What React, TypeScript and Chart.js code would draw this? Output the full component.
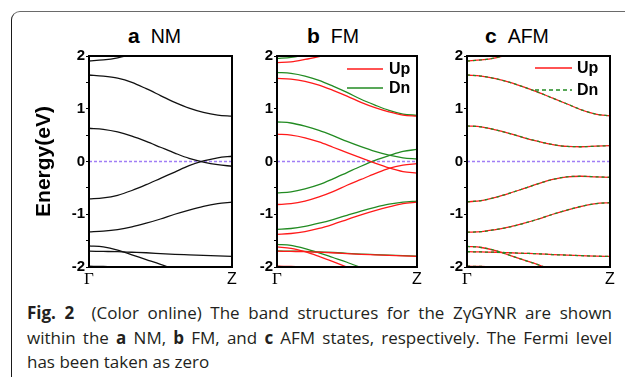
import React, { useEffect, useRef } from 'react';
import { Chart, registerables } from 'chart.js';

Chart.register(...registerables);

// ---------- data ----------
const kPoints = [0, 0.1, 0.2, 0.3, 0.4, 0.5, 0.6, 0.7, 0.8, 0.9, 1.0];
const kTickValues = [0, 1];
const kTickLabels = ['Γ', 'Z'];
const energyMin = -2;
const energyMax = 2;
const energyTickStep = 0.5;
const legendLabels = ['Up', 'Dn'];
const panelTitles = [
  ['a', 'NM'],
  ['b', 'FM'],
  ['c', 'AFM'],
];
const yAxisTitle = 'Energy(eV)';

const N = null;

// (a) NM bands
const nmBands: (number | null)[][] = [
  [1.905, 1.925, 1.965, 2.03, N, N, N, N, N, N, N],
  [1.64, 1.62, 1.58, 1.5, 1.38, 1.25, 1.12, 1.01, 0.93, 0.88, 0.86],
  [0.63, 0.61, 0.56, 0.48, 0.38, 0.27, 0.16, 0.06, -0.01, -0.06, -0.09],
  [-0.71, -0.69, -0.64, -0.55, -0.44, -0.32, -0.2, -0.08, 0.01, 0.07, 0.1],
  [-1.335, -1.32, -1.29, -1.24, -1.17, -1.09, -1.0, -0.92, -0.85, -0.8, -0.77],
  [-1.6, -1.62, -1.68, -1.77, -1.86, -1.95, -2.05, N, N, N, N],
  [-1.7, -1.705, -1.71, -1.72, -1.73, -1.745, -1.76, -1.77, -1.78, -1.79, -1.8],
  [-1.985, -1.99, -2.0, -2.02, N, N, N, N, N, N, N],
];

// (b) FM bands
const fmUpBands: (number | null)[][] = [
  [1.875, 1.89, 1.935, 1.99, 2.05, N, N, N, N, N, N],
  [1.575, 1.56, 1.52, 1.45, 1.35, 1.24, 1.12, 1.02, 0.94, 0.88, 0.86],
  [0.52, 0.5, 0.45, 0.37, 0.27, 0.17, 0.07, -0.03, -0.12, -0.19, -0.22],
  [-0.815, -0.8, -0.75, -0.67, -0.57, -0.45, -0.34, -0.23, -0.13, -0.07, -0.04],
  [-1.38, -1.365, -1.33, -1.27, -1.19, -1.1, -1.01, -0.93, -0.86, -0.8, -0.77],
  [-1.62, -1.645, -1.71, -1.8, -1.9, -2.0, -2.1, N, N, N, N],
  [-1.7, -1.705, -1.71, -1.72, -1.73, -1.745, -1.76, -1.77, -1.78, -1.79, -1.8],
  [-1.985, -1.99, -1.995, -2.005, -2.02, N, N, N, N, N, N],
];
const fmDnBands: (number | null)[][] = [
  [1.955, 1.975, 2.02, N, N, N, N, N, N, N, N],
  [1.69, 1.67, 1.62, 1.54, 1.43, 1.31, 1.18, 1.07, 0.97, 0.9, 0.875],
  [0.75, 0.73, 0.67, 0.59, 0.49, 0.38, 0.28, 0.19, 0.12, 0.07, 0.05],
  [-0.595, -0.575, -0.52, -0.44, -0.33, -0.21, -0.09, 0.02, 0.11, 0.19, 0.23],
  [-1.285, -1.27, -1.23, -1.17, -1.1, -1.02, -0.94, -0.87, -0.81, -0.77, -0.75],
  [-1.57, -1.59, -1.65, -1.73, -1.82, -1.91, -2.01, N, N, N, N],
  [-1.695, -1.7, -1.705, -1.715, -1.725, -1.74, -1.755, -1.765, -1.775, -1.785, -1.795],
  [-1.99, -1.995, -2.005, N, N, N, N, N, N, N, N],
];

// (c) AFM bands (spin up and down are degenerate)
const afmUpBands: (number | null)[][] = [
  [1.905, 1.925, 1.965, 2.03, N, N, N, N, N, N, N],
  [1.64, 1.62, 1.57, 1.5, 1.41, 1.31, 1.2, 1.09, 0.98, 0.9, 0.865],
  [0.675, 0.655, 0.6, 0.53, 0.45, 0.38, 0.32, 0.285, 0.28, 0.29, 0.3],
  [-0.765, -0.74, -0.68, -0.6, -0.51, -0.42, -0.34, -0.29, -0.28, -0.29, -0.3],
  [-1.34, -1.33, -1.29, -1.24, -1.17, -1.09, -1.0, -0.92, -0.85, -0.8, -0.78],
  [-1.61, -1.63, -1.69, -1.78, -1.87, -1.96, -2.06, N, N, N, N],
  [-1.71, -1.715, -1.72, -1.73, -1.74, -1.75, -1.765, -1.775, -1.785, -1.795, -1.8],
  [-1.985, -1.99, -2.0, -2.02, N, N, N, N, N, N, N],
];
const afmDnBands: (number | null)[][] = afmUpBands;

const fermiLevel = 0;

// ---------- styles ----------
const RED = '#ff1a1a';
const GREEN = '#228b22';
const BLACK = '#111111';
const FERMI = '#a07ef5';
const SANS = '"Liberation Sans", Arial, sans-serif';
const SERIF = '"Liberation Serif", "Times New Roman", serif';

type BandSet = { bands: (number | null)[][]; color: string; dash: number[]; order: number };
type LegendItem = { label: string; color: string; dash: number[] };

function toPoints(band: (number | null)[]) {
  return band.map((e, i) => ({ x: kPoints[i], y: e }));
}

interface PanelProps {
  left: number;
  width: number;
  yWidth: number;
  padRight: number;
  sets: BandSet[];
  yTitle?: string;
  legend?: { items: LegendItem[]; lineStart: number; lineEnd: number; text: number; ys: number[] };
}

function BandPanel({ left, width, yWidth, padRight, sets, yTitle, legend }: PanelProps) {
  const ref = useRef<HTMLCanvasElement | null>(null);
  useEffect(() => {
    if (!ref.current) return;
    const datasets: any[] = [];
    datasets.push({
      data: [
        { x: 0, y: fermiLevel },
        { x: 1, y: fermiLevel },
      ],
      borderColor: FERMI,
      borderWidth: 1.5,
      borderDash: [3, 2],
      order: 10,
    });
    sets.forEach((s) => {
      s.bands.forEach((b) => {
        datasets.push({
          data: toPoints(b),
          borderColor: s.color,
          borderWidth: 1.3,
          borderDash: s.dash,
          order: s.order,
          spanGaps: false,
        });
      });
    });

    const framePlugin = {
      id: 'bandFrame',
      afterDraw(chart: any) {
        const { ctx, chartArea } = chart;
        ctx.save();
        ctx.strokeStyle = '#000';
        ctx.lineWidth = 2;
        ctx.setLineDash([]);
        ctx.strokeRect(chartArea.left, chartArea.top, chartArea.right - chartArea.left, chartArea.bottom - chartArea.top);
        ctx.restore();
      },
    };
    // Γ / Z labels placed at the x scale's pixel positions (mixed serif / sans fonts)
    const kLabelPlugin = {
      id: 'kLabels',
      afterDraw(chart: any) {
        const { ctx, chartArea } = chart;
        const xs = chart.scales.x;
        ctx.save();
        ctx.fillStyle = '#000';
        ctx.textAlign = 'center';
        ctx.textBaseline = 'alphabetic';
        kTickValues.forEach((v, i) => {
          const px = xs.getPixelForValue(v);
          ctx.font = i === 0 ? `17px ${SERIF}` : `16px ${SANS}`;
          ctx.fillText(kTickLabels[i], px, chartArea.bottom + 17);
        });
        ctx.restore();
      },
    };
    const legendPlugin = {
      id: 'bandLegend',
      afterDraw(chart: any) {
        if (!legend) return;
        const { ctx, chartArea } = chart;
        ctx.save();
        legend.items.forEach((it, i) => {
          const y = chartArea.top + legend.ys[i];
          ctx.beginPath();
          ctx.strokeStyle = it.color;
          ctx.lineWidth = 1.3;
          ctx.setLineDash(it.dash);
          ctx.moveTo(chartArea.right - legend.lineStart, y);
          ctx.lineTo(chartArea.right - legend.lineEnd, y);
          ctx.stroke();
          ctx.setLineDash([]);
          ctx.fillStyle = '#000';
          ctx.font = `bold 16px ${SANS}`;
          ctx.textBaseline = 'middle';
          ctx.textAlign = 'left';
          ctx.fillText(it.label, chartArea.right - legend.text, y + 1);
        });
        ctx.restore();
      },
    };

    const chart = new Chart(ref.current, {
      type: 'line',
      data: { datasets },
      options: {
        animation: false,
        responsive: false,
        devicePixelRatio: 1,
        events: [],
        layout: { padding: { top: 10, right: padRight, left: 0, bottom: 0 } },
        elements: { point: { radius: 0 }, line: { cubicInterpolationMode: 'monotone' } },
        plugins: { legend: { display: false }, tooltip: { enabled: false }, title: { display: false } },
        scales: {
          x: {
            type: 'linear',
            min: 0,
            max: 1,
            afterBuildTicks: (s: any) => {
              s.ticks = kTickValues.map((v) => ({ value: v }));
            },
            afterFit: (s: any) => {
              s.height = 28;
            },
            grid: { display: false, drawTicks: false },
            border: { display: false },
            ticks: { display: false },
          },
          y: {
            type: 'linear',
            min: energyMin,
            max: energyMax,
            afterFit: (s: any) => {
              s.width = yWidth;
            },
            grid: { drawOnChartArea: false, drawTicks: true, tickLength: 3, color: '#000', lineWidth: 1 },
            border: { display: false },
            ticks: {
              stepSize: energyTickStep,
              autoSkip: false,
              display: true,
              padding: 1,
              color: '#000',
              font: { size: 15, weight: 'bold', family: SANS },
              callback: (v: any) => (Number.isInteger(v) ? String(v) : ''),
            },
            title: {
              display: !!yTitle,
              text: yTitle || '',
              color: '#000',
              font: { family: SANS, size: 21, weight: 'bold' },
              padding: { top: 4, bottom: 4 },
            },
          },
        },
      } as any,
      plugins: [framePlugin, kLabelPlugin, legendPlugin],
    });
    return () => chart.destroy();
  }, []);
  return (
    <canvas
      ref={ref}
      width={width}
      height={249}
      style={{ position: 'absolute', left, top: 46, width, height: 249 }}
    />
  );
}

function PanelTitle({ left, letter, name }: { left: number; letter: string; name: string }) {
  return (
    <div
      style={{
        position: 'absolute',
        left,
        top: 25,
        fontFamily: SANS,
        lineHeight: 1,
        whiteSpace: 'nowrap',
        color: '#000',
      }}
    >
      <span style={{ fontWeight: 'bold', fontSize: 21 }}>{letter}</span>
      <span style={{ fontSize: 19.5, marginLeft: 11 }}>{name}</span>
    </div>
  );
}

export default function App() {
  const fmLegend: LegendItem[] = [
    { label: legendLabels[0], color: RED, dash: [] },
    { label: legendLabels[1], color: GREEN, dash: [] },
  ];
  const afmLegend: LegendItem[] = [
    { label: legendLabels[0], color: RED, dash: [] },
    { label: legendLabels[1], color: GREEN, dash: [4, 3] },
  ];
  const captionFont = '"Open Sans", "Noto Sans", sans-serif';
  const justified: React.CSSProperties = { textAlign: 'justify', textAlignLast: 'justify' as any };
  return (
    <div
      style={{
        position: 'fixed',
        left: 0,
        top: 0,
        width: 625,
        height: 377,
        background: '#fff',
        overflow: 'hidden',
      }}
    >
      <div
        style={{
          position: 'absolute',
          left: 11,
          top: 11,
          width: 700,
          height: 400,
          borderTop: '1.5px solid #6a6a6a',
          borderLeft: '1.5px solid #1a1a1a',
          borderTopLeftRadius: 9,
        }}
      />
      <PanelTitle left={128} letter={panelTitles[0][0]} name={panelTitles[0][1]} />
      <PanelTitle left={307} letter={panelTitles[1][0]} name={panelTitles[1][1]} />
      <PanelTitle left={485} letter={panelTitles[2][0]} name={panelTitles[2][1]} />
      <BandPanel
        left={28}
        width={214}
        yWidth={61}
        padRight={10}
        yTitle={yAxisTitle}
        sets={[{ bands: nmBands, color: BLACK, dash: [], order: 1 }]}
      />
      <BandPanel
        left={237}
        width={190}
        yWidth={40}
        padRight={10}
        sets={[
          { bands: fmDnBands, color: GREEN, dash: [], order: 2 },
          { bands: fmUpBands, color: RED, dash: [], order: 1 },
        ]}
        legend={{ items: fmLegend, lineStart: 70, lineEnd: 34, text: 28, ys: [13, 32] }}
      />
      <BandPanel
        left={427}
        width={195}
        yWidth={40}
        padRight={12}
        sets={[
          { bands: afmUpBands, color: RED, dash: [], order: 2 },
          { bands: afmDnBands, color: GREEN, dash: [3, 3], order: 1 },
        ]}
        legend={{ items: afmLegend, lineStart: 75, lineEnd: 38, text: 33, ys: [12, 34] }}
      />
      <div
        style={{
          position: 'absolute',
          left: 27,
          top: 301,
          width: 585,
          fontFamily: captionFont,
          fontSize: 17,
          lineHeight: '24.5px',
          color: '#231f20',
          whiteSpace: 'nowrap',
        }}
      >
        <div style={justified}>
          <b>Fig. 2</b>&nbsp;&nbsp;(Color online) The band structures for the ZγGYNR are shown
        </div>
        <div style={justified}>
          within the <b>a</b> NM, <b>b</b> FM, and <b>c</b> AFM states, respectively. The Fermi level
        </div>
        <div>has been taken as zero</div>
      </div>
    </div>
  );
}
